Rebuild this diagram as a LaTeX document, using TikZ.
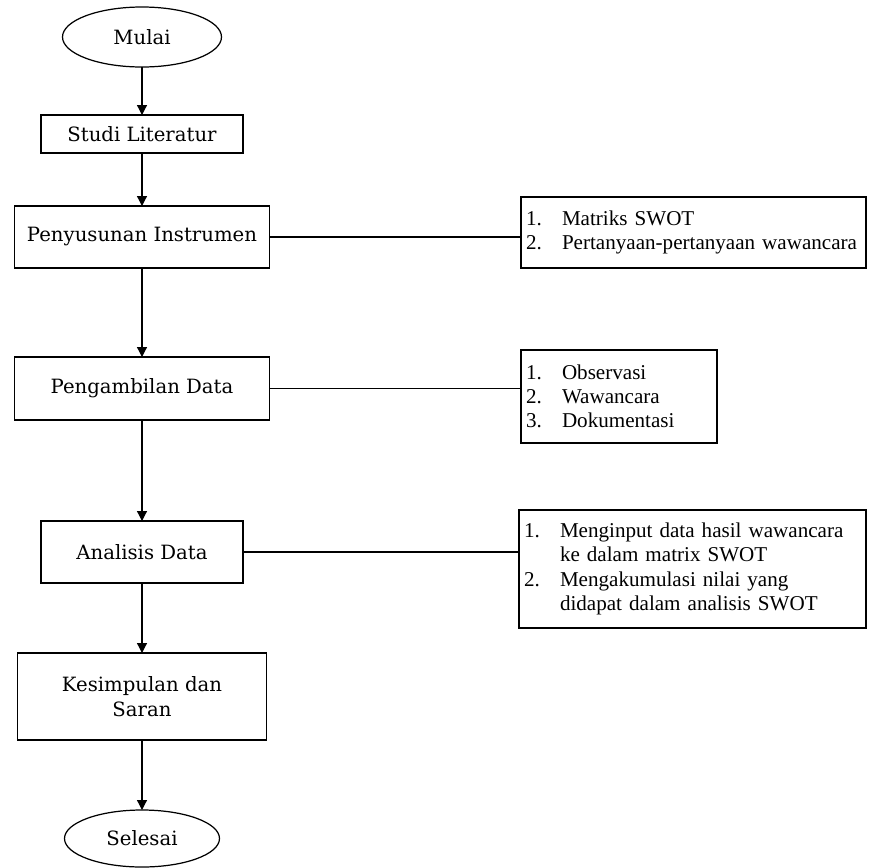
\documentclass[tikz,border=0pt]{standalone}
\usepackage{fontspec}
\setmainfont{Liberation Serif}
\newfontfamily\slabfont{DejaVu Serif}
\usepackage{tikz}
\usetikzlibrary{positioning,arrows.meta,calc,shapes.geometric}

% nomor butir pada kotak keterangan
\newcommand{\butir}[1]{\makebox[0.72cm][l]{#1}}

\begin{document}
\begin{tikzpicture}[
            node distance=1cm,
            outer sep=0pt,
            line width=0.7pt,
            % Style kotak proses
            proses/.style={
                draw=black,
                align=center,
                font=\slabfont\fontsize{11.2}{14}\selectfont,
                fill=white
            },
            % Style mulai / selesai
            terminal/.style={
                draw=black,
                ellipse,
                inner sep=0pt,
                font=\slabfont\fontsize{11.2}{14}\selectfont
            },
            % Style kotak keterangan
            ket/.style={
                draw=black,
                align=left,
                inner xsep=0.1cm,
                font=\fontsize{12}{13.8}\selectfont
            },
            % Style panah
            panah/.style={-{Triangle[width=0.2cm,length=0.2cm]}}
        ]
            \useasboundingbox (-2.84,0.74) rectangle (14.56,-16.6);

            % --- ALUR UTAMA ---
            \node[terminal, minimum width=3.18cm, minimum height=1.2cm] (mulai) at (0,0) {Mulai};

            \node[proses, below=0.96cm of mulai, minimum width=4.04cm, minimum height=0.76cm] (studi) {Studi Literatur};

            \node[proses, below=1.06cm of studi, minimum width=5.1cm, minimum height=1.24cm] (susun) {Penyusunan Instrumen};

            \node[proses, below=1.78cm of susun, minimum width=5.1cm, minimum height=1.26cm] (ambil) {Pengambilan Data};

            \node[proses, below=2.02cm of ambil, minimum width=4.04cm, minimum height=1.24cm] (analisis) {Analisis Data};

            \node[proses, below=1.4cm of analisis, minimum width=4.98cm, minimum height=1.74cm] (simpul) {Kesimpulan dan\\Saran};

            \node[terminal, below=1.4cm of simpul, minimum width=3.1cm, minimum height=1.14cm] (selesai) {Selesai};

            % --- KETERANGAN ---
            % teks sedikit naik: tambah ruang di bawah
            \node[ket, right=5.03cm of susun, yshift=0.09cm, minimum width=6.9cm, minimum height=1.42cm, text width=6.7cm] (ket1)
                {\butir{1.}Matriks SWOT\\
                 \butir{2.}Pertanyaan-pertanyaan wawancara\par\vspace{0.2cm}};

            \node[ket, right=5.03cm of ambil, yshift=-0.16cm, minimum width=3.92cm, minimum height=1.86cm, text width=3.72cm] (ket2)
                {\butir{1.}Observasi\\
                 \butir{2.}Wawancara\\
                 \butir{3.}Dokumentasi\par\vspace{0.16cm}};

            \node[ket, right=5.52cm of analisis, yshift=-0.34cm, minimum width=6.94cm, minimum height=2.36cm, text width=6.74cm] (ket3)
                {\butir{1.}Menginput data hasil wawancara\\
                 \butir{}ke dalam matrix SWOT\\
                 \butir{2.}Mengakumulasi nilai yang\\
                 \butir{}didapat dalam analisis SWOT};

            % --- PANAH ---
            \draw[panah] (mulai.south) -- (studi.north);
            \draw[panah] (studi.south) -- (susun.north);
            \draw[panah] (susun.south) -- (ambil.north);
            \draw[panah] (ambil.south) -- (analisis.north);
            \draw[panah] (analisis.south) -- (simpul.north);
            \draw[panah] (simpul.south) -- (selesai.north);

            % garis ke keterangan
            \draw (susun.east) -- (susun.east -| ket1.west);
            \draw (ambil.east) -- (ambil.east -| ket2.west);
            \draw (analisis.east) -- (analisis.east -| ket3.west);

        \end{tikzpicture}
\end{document}
